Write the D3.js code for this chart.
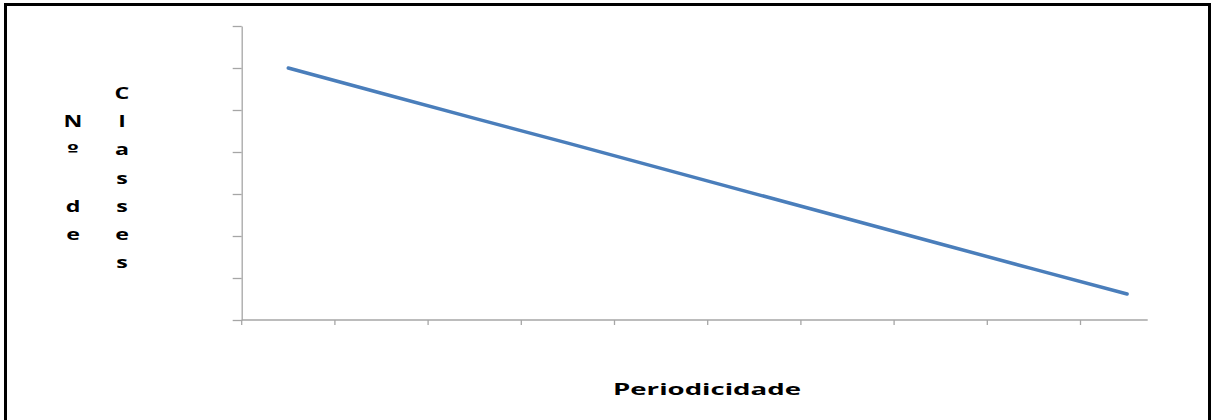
<!DOCTYPE html>
<html>
<head>
<meta charset="utf-8">
<script src="https://cdn.jsdelivr.net/npm/d3@7"></script>
<style>
  html, body { margin: 0; padding: 0; background: #fff; }
  svg { display: block; }
  text { font-family: "Open Sans", sans-serif; font-weight: bold; fill: #000; }
</style>
</head>
<body>
<svg id="chart" width="1211" height="420"></svg>
<script>
// ---- data ----
const categories = ["1","2","3","4","5","6","7","8","9","10"];
const values = [6.0, 5.40, 4.80, 4.21, 3.61, 3.01, 2.41, 1.81, 1.21, 0.62];
const yTicks = [0, 1, 2, 3, 4, 5, 6, 7];
const xTitle = "Periodicidade";
const yTitleCol1 = ["N", "º", "", "d", "e"];
const yTitleCol2 = ["C", "l", "a", "s", "s", "e", "s"];

const svg = d3.select("#chart");
const W = 1211, H = 420;

// outer frame (no bottom edge visible)
svg.append("path")
  .attr("d", `M5.5,${H} V4.5 H1209.5 V${H}`)
  .attr("fill", "none").attr("stroke", "#000").attr("stroke-width", 3);

const x0 = 241.7, step = 93.2, axisEnd = 1147.7;
const y0 = 320, yTop = 26;

const x = d3.scaleBand().domain(categories).range([x0, x0 + step * categories.length]);
const y = d3.scaleLinear().domain([0, 7]).range([y0, yTop]);

const axisColor = "#a6a6a6";

// y axis
const gy = svg.append("g").attr("transform", `translate(${x0},0)`)
  .call(d3.axisLeft(y).tickValues(yTicks).tickSize(9).tickSizeOuter(0).tickFormat(""));
gy.selectAll("path, line").attr("stroke", axisColor).attr("stroke-width", 1.3);

// x axis: ticks at category boundaries
const gx = svg.append("g").attr("transform", `translate(0,${y0})`)
  .call(d3.axisBottom(x).tickSize(5).tickSizeOuter(0).tickFormat(""));
gx.selectAll(".tick").attr("transform", d => `translate(${x(d)},0)`);
gx.select(".domain").attr("d", `M${x0},0 H${axisEnd}`);
gx.selectAll("path, line").attr("stroke", axisColor).attr("stroke-width", 1.3);

// line
const line = d3.line()
  .x((d, i) => x(categories[i]) + x.bandwidth() / 2)
  .y(d => y(d));
svg.append("path").datum(values)
  .attr("d", line)
  .attr("fill", "none")
  .attr("stroke", "#4a7ebb")
  .attr("stroke-width", 3.5)
  .attr("stroke-linecap", "round");

// x title
svg.append("text")
  .attr("x", 707).attr("y", 395)
  .attr("text-anchor", "middle")
  .attr("font-size", 16)
  .attr("textLength", 188)
  .attr("lengthAdjust", "spacingAndGlyphs")
  .text(xTitle);

// y title as stacked letters (horizontally stretched like the reference)
const rowY0 = 99, rowStep = 28.2, sx = 1.45;
function letter(cx, cy, c) {
  const t = svg.append("text")
    .attr("transform", `translate(${cx},${cy}) scale(${sx},1)`)
    .attr("text-anchor", "middle").attr("font-size", 16).text(c);
  if (c === "º") t.style("font-family", "'DejaVu Sans', sans-serif").attr("font-size", 15);
}
yTitleCol1.forEach((c, i) => { if (c) letter(73, rowY0 + (i + 1) * rowStep, c); });
yTitleCol2.forEach((c, i) => letter(122, rowY0 + i * rowStep, c));
</script>
</body>
</html>
